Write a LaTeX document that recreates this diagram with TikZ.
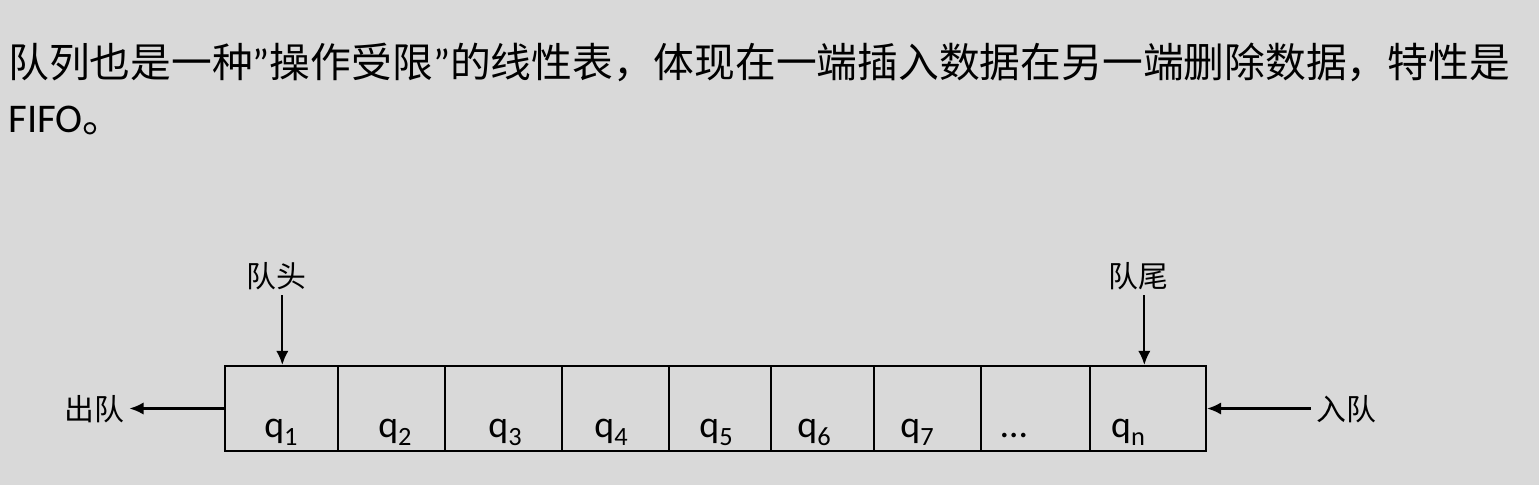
\documentclass[tikz,border=0pt]{standalone}
\usepackage{fontspec}
\setmainfont{Noto Sans CJK SC}
\newfontfamily\lat{Carlito}
\usetikzlibrary{arrows.meta,positioning}
\definecolor{slidegray}{RGB}{217,217,217}
\newcommand{\qsub}[1]{{\lat q\raisebox{-0.22em}{\fontsize{15}{15}\selectfont #1}}}

\begin{document}
\begin{tikzpicture}[
    x=0.02cm, y=-0.02cm,
    >={Latex[length=8pt,width=7pt]},
    cellbox/.style={draw, line width=1.2pt, minimum height=1.7cm, inner sep=0pt},
    celltext/.style={anchor=base, font=\lat\fontsize{21.5}{24}\selectfont, inner sep=0pt},
    intro/.style={anchor=base west, inner sep=0pt, font=\fontsize{23.2}{28}\selectfont},
    tag/.style={font=\fontsize{17}{20}\selectfont, inner sep=3pt},
    qarrow/.style={->, line width=1.2pt}
]
    \fill[slidegray] (0,0) rectangle (1539,485);

    \node[intro] (introline) at (8,77) {队列也是一种{\lat ”}操作受限{\lat ”}的线性表，体现在一端插入数据在另一端删除数据，特性是};
    \node[intro] (introend) at (8,132) {{\lat FIFO}。};

    % queue cells
    \foreach \l/\r/\tx/\txt [count=\i] in {225/338/281/\qsub{1}, 338/445/395/\qsub{2}, 445/562/505/\qsub{3},
        562/669/611/\qsub{4}, 669/771/716/\qsub{5}, 771/874/814/\qsub{6}, 874/981/917/\qsub{7},
        981/1090/1014/{\lat …}, 1090/1206/1128/\qsub{n}} {
        \pgfmathsetmacro\w{(\r-\l)*0.02}
        \node[cellbox, minimum width=\w cm] (c\i) at ({(\l+\r)/2},408.5) {};
        \node[celltext] (t\i) at (\tx,437) {\txt};
    }

    \node[tag] (headlbl) at (276,276) {队头};
    \node[tag] (taillbl) at (1138,276) {队尾};
    \node[tag] (outlbl) at (94,409) {出队};
    \node[tag] (inlbl) at (1346,409) {入队};

    \draw[qarrow] ([xshift=3\pgflinewidth]headlbl.south) -- ([xshift=3\pgflinewidth]headlbl.south |- c1.north);
    \draw[qarrow] ([xshift=3\pgflinewidth]taillbl.south) -- ([xshift=3\pgflinewidth]taillbl.south |- c9.north);
    \draw[qarrow] (c1.west) -- (c1.west -| outlbl.east);
    \draw[qarrow] (inlbl.west |- c9.east) -- (c9.east);
\end{tikzpicture}
\end{document}
